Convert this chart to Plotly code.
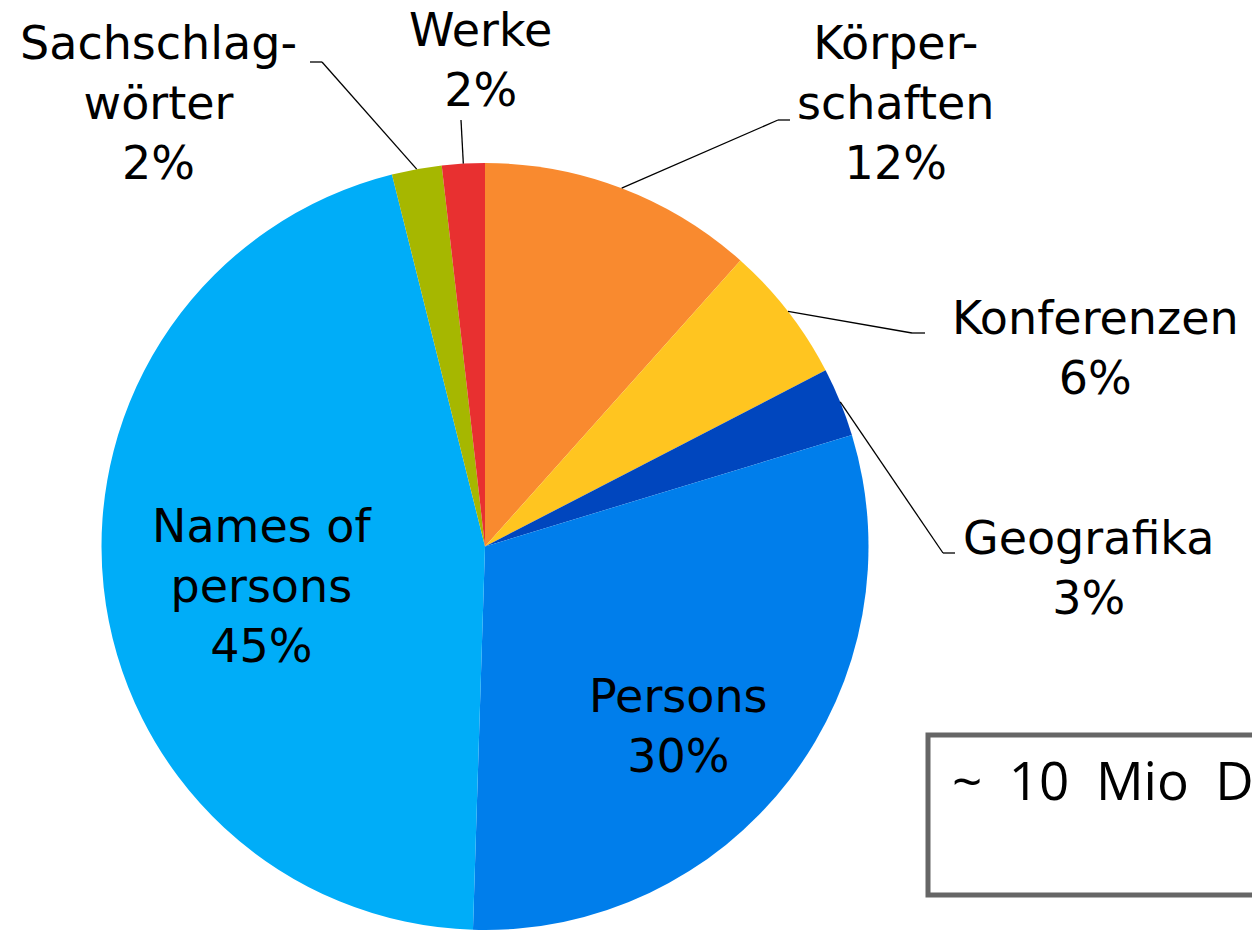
import math
import plotly.graph_objects as go

# ---- data ----
labels = ["Körperschaften", "Konferenzen", "Geografika", "Persons",
          "Names of persons", "Sachschlagwörter", "Werke"]
values = [11.6, 5.8, 2.9, 30.2, 45.6, 2.1, 1.8]
label_text = ["Körper-<br>schaften<br>12%", "Konferenzen<br>6%", "Geografika<br>3%",
              "Persons<br>30%", "Names of<br>persons<br>45%",
              "Sachschlag-<br>wörter<br>2%", "Werke<br>2%"]
colors = ["#F98A2F", "#FFC520", "#0046BE", "#007EEB", "#00ADF8", "#A6B700", "#E83030"]
box_text = "~\u200210\u2002Mio\u2002Datensätze"

# ---- layout constants (pixels) ----
W, H = 1252, 930
dom_px = (100, 870, 163, 930)  # x0, x1, y0(top), y1(bottom)
cx = (dom_px[0] + dom_px[1]) / 2
cy = (dom_px[2] + dom_px[3]) / 2
R = min(dom_px[1] - dom_px[0], dom_px[3] - dom_px[2]) / 2

# label centres and leader elbows/ends (pixels); None = inside label
label_pos = [(895, 103), (1095, 348), (1088, 568), (678, 726), (262, 586), (158, 103), (480, 60)]
leader = [((778, 120), (790, 120)), ((912, 333), (925, 333)), ((943, 553), (955, 553)),
          None, None, ((322, 62), (310, 62)), ((461, 120), (461, 120))]


def px(x):
    return x / W


def py(y):
    return 1 - y / H


fig = go.Figure(go.Pie(
    labels=labels, values=values, sort=False, direction="clockwise", rotation=0,
    marker=dict(colors=colors, line=dict(width=0)),
    textinfo="none", hoverinfo="label+percent", showlegend=False,
    domain=dict(x=[px(dom_px[0]), px(dom_px[1])], y=[py(dom_px[3]), py(dom_px[2])]),
))

total = sum(values)
shapes = []
annotations = []
cum = 0
for i, v in enumerate(values):
    mid = (cum + v / 2) / total * 2 * math.pi
    cum += v
    lx, ly = label_pos[i]
    annotations.append(dict(
        x=px(lx), y=py(ly), xref="paper", yref="paper", text=label_text[i],
        showarrow=False, xanchor="center", yanchor="middle", align="center",
        font=dict(family="DejaVu Sans", size=46, color="black")))
    if leader[i] is not None:
        sx = cx + R * math.sin(mid)
        sy = cy - R * math.cos(mid)
        (ex, ey), (fx, fy) = leader[i]
        shapes.append(dict(type="line", xref="paper", yref="paper",
                           x0=px(sx), y0=py(sy), x1=px(ex), y1=py(ey),
                           line=dict(color="black", width=1.3)))
        shapes.append(dict(type="line", xref="paper", yref="paper",
                           x0=px(ex), y0=py(ey), x1=px(fx), y1=py(fy),
                           line=dict(color="black", width=1.3)))

# info box
shapes.append(dict(type="rect", xref="paper", yref="paper",
                   x0=px(928), y0=py(895), x1=px(1300), y1=py(735),
                   line=dict(color="#666666", width=5), fillcolor="rgba(0,0,0,0)"))
annotations.append(dict(x=px(950), y=py(779), xref="paper", yref="paper", text=box_text,
                        showarrow=False, xanchor="left", yanchor="middle",
                        font=dict(family="Open Sans", size=53, color="black")))

fig.update_layout(width=W, height=H, margin=dict(l=0, r=0, t=0, b=0),
                  paper_bgcolor="white", plot_bgcolor="white",
                  shapes=shapes, annotations=annotations)
fig.write_html("out.html", config={"displayModeBar": False},
               post_script="document.body.style.margin='0';document.body.style.overflow='hidden';")
